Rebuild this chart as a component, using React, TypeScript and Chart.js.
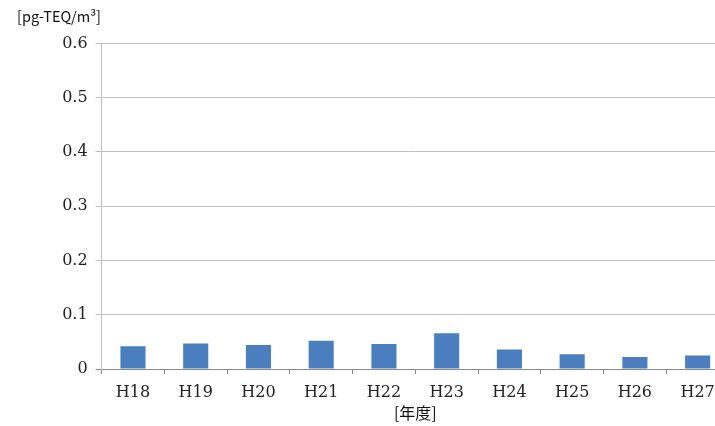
import React, { useEffect, useRef } from "react";
import { Chart, registerables } from "chart.js";

Chart.register(...registerables);

const categories = ["H18", "H19", "H20", "H21", "H22", "H23", "H24", "H25", "H26", "H27"];
const values = [0.042, 0.047, 0.044, 0.052, 0.046, 0.066, 0.036, 0.027, 0.022, 0.025];
const yTickLabels = ["0", "0.1", "0.2", "0.3", "0.4", "0.5", "0.6"];
const unitLabel = "[pg-TEQ/m³]";
const xTitle = "[年度]";

export default function App() {
  const ref = useRef<HTMLCanvasElement | null>(null);
  useEffect(() => {
    if (!ref.current) return;
    const chart = new Chart(ref.current, {
      type: "bar",
      data: {
        labels: categories,
        datasets: [
          {
            data: values,
            backgroundColor: "#4a7ebf",
            borderWidth: 0,
            categoryPercentage: 1,
            barPercentage: 0.4,
          },
        ],
      },
      options: {
        animation: false,
        responsive: true,
        maintainAspectRatio: false,
        layout: { padding: { left: 17, right: 0, top: 0, bottom: 0 } },
        plugins: {
          legend: { display: false },
          tooltip: { enabled: false },
          title: {
            display: true,
            text: unitLabel,
            align: "start",
            color: "#111",
            font: { family: "'Noto Sans CJK JP', sans-serif", size: 14.5, weight: "normal" },
            padding: { top: 8, bottom: 18 },
          },
        },
        scales: {
          x: {
            offset: true,
            afterFit: (s: any) => {
              s.height = 57;
            },
            grid: {
              display: true,
              drawOnChartArea: false,
              drawTicks: true,
              tickLength: 5,
              offset: true,
              color: "#888",
            },
            border: { display: true, color: "#888" },
            ticks: {
              color: "#222",
              padding: 9,
              maxRotation: 0,
              font: { family: "'DejaVu Serif', serif", size: 16 },
            },
            title: {
              display: true,
              text: xTitle,
              color: "#111",
              font: { family: "'Noto Sans CJK JP', sans-serif", size: 16, weight: "normal" },
              padding: { top: 0, bottom: 3 },
            },
          },
          y: {
            min: 0,
            max: 0.6,
            afterFit: (s: any) => {
              s.width = 84.6;
            },
            grid: {
              color: (c: any) => (c.index === 0 ? "#888" : "#bfbfbf"),
              tickLength: 6,
              drawTicks: true,
            },
            border: { display: true, color: "#bfbfbf" },
            ticks: {
              stepSize: 0.1,
              color: "#222",
              padding: 8,
              font: { family: "'DejaVu Serif', serif", size: 16 },
              callback: (_v: any, i: number) => yTickLabels[i],
            },
          },
        },
      },
    });
    return () => chart.destroy();
  }, []);
  return (
    <div
      style={{
        position: "fixed",
        left: 0,
        top: 0,
        width: 715,
        height: 426,
        overflow: "hidden",
        background: "#fff",
      }}
    >
      <div style={{ position: "relative", width: 729, height: 426 }}>
        <canvas ref={ref} />
      </div>
    </div>
  );
}
